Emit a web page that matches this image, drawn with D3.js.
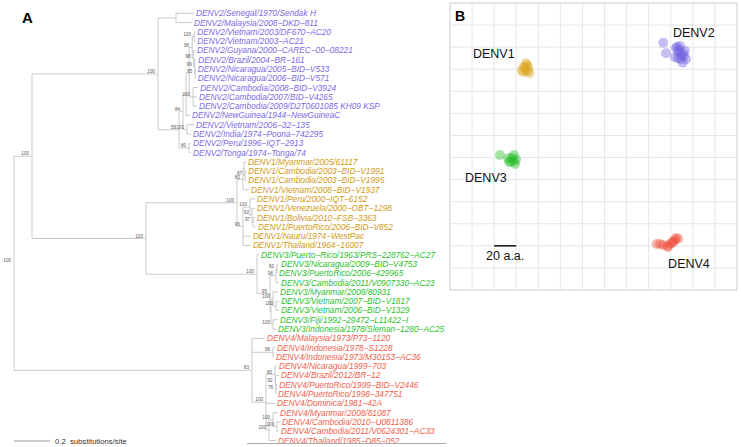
<!DOCTYPE html>
<html><head><meta charset="utf-8">
<script src="https://cdn.jsdelivr.net/npm/d3@7"></script>
<style>
body{margin:0;background:#fff;}
svg{display:block;font-family:"Liberation Sans",Arial,Helvetica,sans-serif;}
</style></head>
<body><svg id="c" width="741" height="447"></svg>
<script>
// ---------- DATA ----------
const leafLabels = [
"DENV2/Senegal/1970/Sendak H","DENV2/Malaysia/2008-DKD-811","DENV2/Vietnam/2003/DF670-AC20","DENV2/Vietnam/2003-AC21",
"DENV2/Guyana/2000-CAREC-00-08221","DENV2/Brazil/2004-BR-161","DENV2/Nicaragua/2005-BID-V533","DENV2/Nicaragua/2006-BID-V571",
"DENV2/Cambodia/2008-BID-V3924","DENV2/Cambodia/2007/BID-V4265","DENV2/Cambodia/2009/D2T0601085 KH09 KSP","DENV2/NewGuinea/1944-NewGuineaC",
"DENV2/Vietnam/2006-32-135","DENV2/India/1974-Poona-742295","DENV2/Peru/1996-IQT-2913","DENV2/Tonga/1974-Tonga/74",
"DENV1/Myanmar/2005/61117","DENV1/Cambodia/2003-BID-V1991","DENV1/Cambodia/2003-BID-V1995","DENV1/Vietnam/2008-BID-V1937",
"DENV1/Peru/2000-IQT-6152","DENV1/Venezuela/2000-OBT-1298","DENV1/Bolivia/2010-FSB-3363","DENV1/PuertoRico/2006-BID-V852",
"DENV1/Nauru/1974-WestPac","DENV1/Thailand/1964-16007",
"DENV3/Puerto-Rico/1963/PRS-228762-AC27","DENV3/Nicaragua/2009-BID-V4753","DENV3/PuertoRico/2006-429965","DENV3/Cambodia/2011/V0907330-AC23",
"DENV3/Myanmar/2008/80931","DENV3/Vietnam/2007-BID-V1817","DENV3/Vietnam/2006-BID-V1329","DENV3/Fiji/1992-29472-L11422-I",
"DENV3/Indonesia/1978/Sleman-1280-AC25",
"DENV4/Malaysia/1973/P73-1120","DENV4/Indonesia/1978-S1228","DENV4/Indonesia/1973/M30153-AC36","DENV4/Nicaragua/1999-703",
"DENV4/Brazil/2012/BR-12","DENV4/PuertoRico/1999-BID-V2446","DENV4/PuertoRico/1998-347751","DENV4/Dominica/1981-42A",
"DENV4/Myanmar/2008/81087","DENV4/Cambodia/2010-U0811386","DENV4/Cambodia/2011/V0624301-AC33","DENV4/Thailand/1985-D85-052"
];
// tree topology: leaf indices, bootstrap support, branch lengths (substitutions/site)
const treeNewick =
"(((" +
  "(0:0.1,1:0.089):0.1," +
  "((((((2:0.006,3:0.006)100:0.011,(4:0.008,(5:0.008,(6:0.003,7:0.003)95:0.003)99:0.006)98:0.008)96:0.017," +
  "(8:0.028,9:0.022,10:0.022)100:0.022):0.017,11:0.022):0.017,(12:0.039,13:0.022)100:0.022)84:0.022," +
  "(14:0.011,15:0.011)80:0.056)58:0.117" +
 ")100:0.7," +
 "((" +
  "((16:0.011,(17:0.006,18:0.006)87:0.006):0.006,19:0.033)80:0.033," +
  "((20:0.028,(21:0.017,(22:0.011,23:0.017)97:0.006)92:0.011)100:0.039,24:0.044,25:0.044)96:0.033" +
 ")100:0.506," +
 "(26:0.011,(((27:0.011,28:0.0)90:0.006,29:0.017)98:0.033,((30:0.028,(31:0.017,32:0.017)100:0.017)100:0.011,(33:0.028,34:0.017)100:0.011):0.006)95:0.072)100:0.617" +
 ")100:0.633" +
")100:0.1," +
"(35:0.072,(36:0.011,37:0.006)96:0.117," +
 "(((38:0.011,(39:0.019,(40:0.006,41:0.0)76:0.003)92:0.003)80:0.05,42:0.05," +
 "((43:0.028,(44:0.017,45:0.011)100:0.022)100:0.022,46:0.039)100:0.017)100:0.078)" +
")83:1.322)100;";

const serotypes = ["DENV1","DENV2","DENV3","DENV4"];
const labelColors = ["#d19a12","#7b6ae6","#2cbf2c","#f2604c"];
const pointColors = ["#dba622","#6f5fe0","#22bb22","#f04a3a"];

// Panel B: antigenic map coordinates (amino-acid units)
const denv1X = [68.9,65.0,70.9,67.0,71.8,67.9,69.8,66.1,68.9,70.7];
const denv1Y = [205.4,199.3,198.7,202.3,196.3,201.1,203.8,197.5,198.4,202.0];
const denv2X = [193.2,195.7,205.9,207.7,212.9,203.8,209.0,213.8,210.8,206.6,209.3,204.7,212.0,208.4,206.6,211.1];
const denv2Y = [224.0,214.4,220.4,217.4,216.8,210.8,209.0,209.0,205.9,215.6,212.9,219.2,212.0,221.1,210.0,214.7];
const denv3X = [45.3,52.8,58.0,58.9,55.0,59.8,56.2,53.5,58.0];
const denv3Y = [122.3,119.3,122.3,114.2,116.2,118.4,119.6,116.0,116.9];
const denv4X = [187.3,196.9,202.3,206.8,203.8,193.0,199.3,204.7,190.3,201.1,197.5];
const denv4Y = [41.7,39.9,43.8,46.5,45.3,40.8,41.7,47.1,41.7,42.6,39.0];
const clusterLabels = ["DENV1","DENV2","DENV3","DENV4"];
const clusterLabelX = [20.8,202.0,13.6,197.6];
const clusterLabelY = [210.2,229.2,97.8,20.0];
const mapGridStep = 20;
const mapExtent = 260;

// ---------- TREE ----------
function parseNewick(s){
  s = s.replace(/\s+/g,"");
  let i = 0;
  function node(){
    const n = {children:[]};
    if (s[i] === "("){
      i++;
      n.children.push(node());
      while (s[i] === ","){ i++; n.children.push(node()); }
      i++;
    }
    let name = "";
    while (i < s.length && !",):;".includes(s[i])) name += s[i++];
    n.name = name;
    n.length = 0;
    if (s[i] === ":"){
      i++; let num = "";
      while (i < s.length && !",);".includes(s[i])) num += s[i++];
      n.length = +num;
    }
    return n;
  }
  return node();
}

const svg = d3.select("#c");
const root = d3.hierarchy(parseNewick(treeNewick), d => d.children.length ? d.children : null);
root.each(d => { d.dist = d.parent ? d.parent.dist + d.data.length : 0; });

const xTree = d3.scaleLinear().domain([0, 1]).range([14, 194]);
const yTree = d3.scaleLinear().domain([0, leafLabels.length - 1]).range([13.3, 440.5]);

root.eachAfter(d => {
  if (!d.children) d.yv = yTree(+d.data.name);
  else d.yv = (d.children[0].yv + d.children[d.children.length-1].yv) / 2;
});

const gT = svg.append("g");
const edgeColor = "#c9c9c9";
root.descendants().forEach(d => {
  if (d.parent){
    gT.append("line").attr("x1", xTree(d.parent.dist)).attr("x2", xTree(d.dist))
      .attr("y1", d.yv).attr("y2", d.yv).attr("stroke", edgeColor).attr("stroke-width", 1);
  }
  if (d.children){
    const ys = d.children.map(c => c.yv);
    gT.append("line").attr("x1", xTree(d.dist)).attr("x2", xTree(d.dist))
      .attr("y1", d3.min(ys)).attr("y2", d3.max(ys)).attr("stroke", edgeColor).attr("stroke-width", 1);
  }
});
// bootstrap labels
root.descendants().filter(d => d.children && d.data.name).forEach(d => {
  gT.append("text").attr("x", xTree(d.dist) - 3).attr("y", d.yv - 0.8)
    .attr("text-anchor", "end").attr("font-size", 4.6).attr("fill", "#555").text(d.data.name);
});
// tip labels
root.leaves().forEach(d => {
  const lab = leafLabels[+d.data.name];
  const si = serotypes.indexOf(lab.slice(0,5));
  gT.append("text").attr("x", xTree(d.dist) + 2).attr("y", d.yv + 3)
    .attr("font-size", 8.3).attr("font-style", "italic").attr("fill", labelColors[si])
    .text(lab.replace(/-/g, "\u2212"));
});
// bottom rule
svg.append("line").attr("x1", 247).attr("x2", 446).attr("y1", 443.5).attr("y2", 443.5)
  .attr("stroke", "#aaa").attr("stroke-width", 1);
// scale bar
svg.append("line").attr("x1", xTree(0)).attr("x2", xTree(0.2)).attr("y1", 441).attr("y2", 441)
  .attr("stroke", "#999").attr("stroke-width", 1);
svg.append("text").attr("x", xTree(0.2) + 5).attr("y", 443.5).attr("font-size", 7.7).attr("fill", "#333")
  .attr("xml:space", "preserve").text("0.2  substitutions/site");
svg.append("text").attr("x", 22).attr("y", 23).attr("font-size", 15).attr("font-weight", "bold").text("A");

// ---------- PANEL B ----------
const xB = d3.scaleLinear().domain([0, mapExtent]).range([450, 737]);
const yB = d3.scaleLinear().domain([0, mapExtent]).range([290, 3]);
const gB = svg.append("g");
gB.append("rect").attr("x", xB(0)).attr("y", yB(mapExtent)).attr("width", xB(mapExtent) - xB(0))
  .attr("height", yB(0) - yB(mapExtent)).attr("fill", "#fff");
const gridVals = d3.range(mapGridStep, mapExtent, mapGridStep);
gridVals.forEach(v => {
  gB.append("line").attr("x1", xB(v)).attr("x2", xB(v)).attr("y1", yB(0)).attr("y2", yB(mapExtent))
    .attr("stroke", "#e6e6e6").attr("stroke-width", 1);
  gB.append("line").attr("x1", xB(0)).attr("x2", xB(mapExtent)).attr("y1", yB(v)).attr("y2", yB(v))
    .attr("stroke", "#e6e6e6").attr("stroke-width", 1);
});
gB.append("rect").attr("x", xB(0)).attr("y", yB(mapExtent)).attr("width", xB(mapExtent) - xB(0))
  .attr("height", yB(0) - yB(mapExtent)).attr("fill", "none").attr("stroke", "#d4d4d4").attr("stroke-width", 1.2);

const series = [[denv1X, denv1Y], [denv2X, denv2Y], [denv3X, denv3Y], [denv4X, denv4Y]];
series.forEach((s, k) => {
  gB.selectAll(null).data(d3.range(s[0].length)).join("circle")
    .attr("cx", i => xB(s[0][i])).attr("cy", i => yB(s[1][i])).attr("r", 5)
    .attr("fill", pointColors[k]).attr("fill-opacity", 0.4);
});
clusterLabels.forEach((t, k) => {
  gB.append("text").attr("x", xB(clusterLabelX[k])).attr("y", yB(clusterLabelY[k]))
    .attr("font-size", 12.5).attr("fill", "#111").text(t);
});
// 20 a.a. scale bar
gB.append("line").attr("x1", xB(40)).attr("x2", xB(60)).attr("y1", yB(40)).attr("y2", yB(40))
  .attr("stroke", "#111").attr("stroke-width", 1.5);
gB.append("text").attr("x", xB(50)).attr("y", yB(40) + 14.3).attr("text-anchor", "middle")
  .attr("font-size", 12.5).attr("fill", "#111").text("20 a.a.");
svg.append("text").attr("x", 455).attr("y", 21).attr("font-size", 14).attr("font-weight", "bold").text("B");
</script>
</body></html>
